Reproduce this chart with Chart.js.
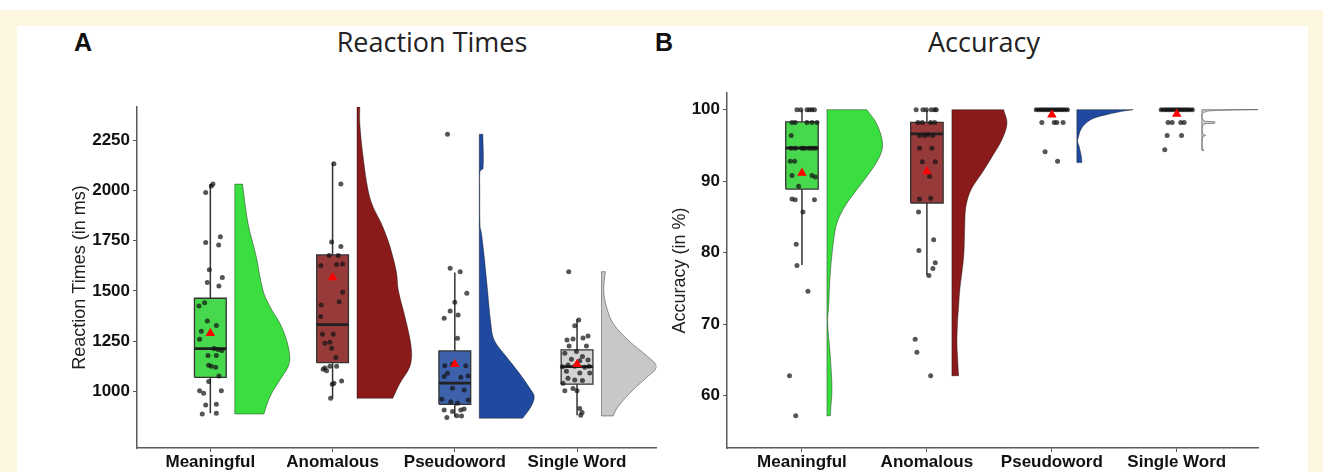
<!DOCTYPE html>
<html>
<head>
<meta charset="utf-8">
<script src="https://cdn.jsdelivr.net/npm/chart.js@4.4.1/dist/chart.umd.min.js"></script>
<style>
  html, body { margin: 0; padding: 0; }
  body { width: 1323px; height: 472px; background: #fdf7e2; position: relative; overflow: hidden; }
  #strip { position: absolute; left: 0; top: 0; width: 1323px; height: 10px; background: #fff; }
  #panel { position: absolute; left: 17px; top: 26px; width: 1291px; height: 446px; background: #fff; }
  .tag { position: absolute; font: bold 25px "Liberation Sans", Arial, sans-serif; line-height: 25px; color: #111; }
  .title { position: absolute; width: 300px; text-align: center; font: 27px "Open Sans", sans-serif; line-height: 27px; color: #222; }
  canvas { position: absolute; top: 80px; }
</style>
</head>
<body>
<div id="strip"></div>
<div id="panel"></div>
<div class="tag" style="left:74px; top:30px;">A</div>
<div class="title" style="left:282px; top:28px;">Reaction Times</div>
<div class="tag" style="left:655px; top:30px;">B</div>
<div class="title" style="left:834px; top:28px;">Accuracy</div>
<canvas id="rtChart" width="662" height="392" style="left:0px;"></canvas>
<canvas id="accChart" width="661" height="392" style="left:662px;"></canvas>

<script>
const categories = ["Meaningful", "Anomalous", "Pseudoword", "Single Word"];
const violinColors = ["#3ade3f", "#8b1a1a", "#1f4aa0", "#c8c8c8"];
const boxColors = ["#48d84d", "#973a3a", "#3d62ab", "#d3d3d3"];

// ---- Reaction times (ms) ----
const rtTicks = [1000, 1250, 1500, 1750, 2000, 2250];
const rtQ1 = [1071, 1144, 937, 1037];
const rtMedian = [1214, 1333, 1042, 1124];
const rtQ3 = [1464, 1679, 1202, 1207];
const rtLow = [893, 967, 875, 883];
const rtHigh = [2031, 2138, 1592, 1360];
const rtMean = [1290, 1567, 1136, 1136];

// [jitter, value]
const rtMeaningfulPts = [[0.021, 2031], [0.008, 2022], [-0.038, 1989], [-0.038, 1741], [0.068, 1729], [0.082, 1770],
  [-0.008, 1605], [-0.025, 1542], [0.07, 1525], [0.098, 1567], [-0.093, 1426], [-0.047, 1442], [-0.025, 1351],
  [0.049, 1328], [-0.074, 1300], [-0.088, 1260], [0.03, 1214], [0.063, 1209], [0.095, 1204], [-0.019, 1179],
  [0.049, 1179], [-0.014, 1131], [0.008, 1126], [0.044, 1121], [0.07, 1078], [-0.014, 1050], [-0.088, 1005],
  [0.09, 1005], [-0.055, 992], [-0.038, 934], [0.049, 937], [-0.066, 889], [0.049, 893]];
const rtAnomalousPts = [[0.011, 2132], [0.068, 2031], [-0.008, 1743], [0.068, 1721], [-0.028, 1676], [0.046, 1676],
  [-0.096, 1626], [0.033, 1631], [0.082, 1634], [0.082, 1494], [0.054, 1446], [-0.093, 1431], [-0.098, 1373],
  [-0.082, 1285], [0.005, 1285], [-0.022, 1245], [-0.063, 1240], [-0.008, 1216], [0.027, 1169], [-0.063, 1118],
  [-0.022, 1126], [0.033, 1126], [-0.049, 1104], [-0.077, 1111], [-0.003, 1037], [0.011, 1042], [0.074, 1053],
  [-0.016, 967]];
const rtPseudowordPts = [[-0.06, 2279], [-0.038, 1613], [0.044, 1596], [0.098, 1489], [0, 1444], [-0.038, 1400],
  [0.027, 1381], [-0.087, 1365], [0.022, 1265], [-0.082, 1128], [-0.019, 1136], [0.09, 1128], [-0.087, 1075],
  [-0.06, 1091], [0.049, 1071], [0.109, 1078], [-0.019, 1017], [0.076, 1008], [-0.106, 962], [0.109, 959],
  [-0.033, 950], [0.022, 942], [-0.087, 909], [-0.019, 901], [0.049, 909], [0.076, 914], [-0.065, 871],
  [0.016, 880], [0.055, 879]];
const rtSingleWordPts = [[-0.068, 1596], [0.014, 1356], [-0.019, 1327], [0.09, 1277], [-0.082, 1257], [-0.033, 1262],
  [0.049, 1267], [-0.065, 1227], [0.077, 1227], [-0.1, 1191], [-0.005, 1199], [0.044, 1174], [-0.046, 1161],
  [0.022, 1154], [0.09, 1157], [-0.12, 1124], [-0.074, 1132], [-0.019, 1126], [0.063, 1121], [0.098, 1126],
  [-0.087, 1101], [0.022, 1093], [0.104, 1093], [-0.074, 1067], [-0.115, 1042], [-0.019, 1058], [0.044, 1055],
  [-0.1, 1004], [-0.033, 1015], [0, 1004], [0.022, 916], [0.041, 896], [0.03, 883]];

// [value, relative density]
const rtMeaningfulDens = [[889, 0.53], [975, 0.64], [1058, 0.82], [1124, 0.97], [1174, 1.0], [1257, 0.94],
  [1340, 0.82], [1422, 0.64], [1505, 0.51], [1671, 0.39], [1837, 0.24], [2031, 0.14]];
const rtAnomalousDens = [[967, 0.65], [1042, 0.78], [1124, 0.96], [1207, 0.99], [1340, 0.9], [1505, 0.75],
  [1588, 0.72], [1671, 0.65], [1754, 0.56], [1837, 0.44], [1919, 0.29], [2002, 0.2], [2168, 0.11],
  [2334, 0.05], [2414, 0.05]];
const rtPseudowordDens = [[868, 0.79], [925, 0.94], [975, 1.0], [1008, 0.94], [1091, 0.73], [1174, 0.49],
  [1257, 0.27], [1340, 0.21], [1505, 0.15], [1671, 0.09], [1787, 0.04], [1820, 0.015], [2002, 0.01],
  [2095, 0.015], [2110, 0.07], [2279, 0.065]];
const rtSingleWordDens = [[879, 0.21], [925, 0.3], [1008, 0.57], [1075, 0.84], [1124, 1.0], [1174, 0.84],
  [1257, 0.48], [1340, 0.21], [1422, 0.09], [1505, 0.04], [1596, 0.07]];

// ---- Accuracy (%) ----
const accTicks = [60, 70, 80, 90, 100];
const accQ1 = [88.9, 86.95, 100, 100];
const accMedian = [94.64, 96.6, 100, 100];
const accQ3 = [98.28, 98.23, 100, 100];
const accLow = [78.3, 76.9, 100, 100];
const accHigh = [100, 100, 100, 100];
const accMean = [91.15, 91.37, 99.3, 99.4];

const accMeaningfulPts = [[-0.04, 100], [-0.01, 100], [0.04, 100], [0.06, 100], [0.08, 100], [0.1, 100],
  [-0.08, 98.2], [-0.054, 98.2], [0.04, 98.2], [0.08, 98.2], [0.12, 98.2], [-0.086, 96.4],
  [-0.088, 94.6], [-0.054, 94.6], [0, 94.6], [0.019, 94.6], [0.054, 94.6], [0.08, 94.6], [0.107, 94.6],
  [-0.094, 92.8], [-0.059, 92.8], [-0.08, 90.8], [0.08, 90.8], [0.107, 90.6], [-0.027, 89.3],
  [-0.08, 87.5], [-0.054, 87.4], [0.1, 87.4], [0.008, 85.7], [-0.046, 81.2], [-0.04, 78.2], [0.048, 74.6],
  [-0.1, 62.8], [-0.05, 57.2]];
const accAnomalousPts = [[-0.086, 100], [-0.032, 100], [-0.005, 100], [0.035, 100], [0.062, 100], [0.075, 100],
  [-0.072, 98.2], [-0.037, 98.2], [0.03, 98.2], [0.062, 98.2], [-0.059, 96.4], [-0.019, 96.4], [0.048, 96.4],
  [0.008, 96.5], [-0.059, 94.6], [0.04, 94.6], [-0.037, 92.7], [0.067, 92.7], [0.021, 90.7], [-0.059, 87.5],
  [0.03, 87.6], [-0.067, 85.7], [0.054, 81.8], [-0.064, 80.3], [0.067, 78.6], [0.048, 77.8], [0.016, 76.8],
  [-0.094, 67.9], [-0.08, 66.1], [0.03, 62.8]];
const accPseudowordPts = [[-0.125, 100], [-0.1, 100], [-0.08, 100], [-0.06, 100], [-0.04, 100], [-0.02, 100],
  [0, 100], [0.02, 100], [0.04, 100], [0.06, 100], [0.08, 100], [0.1, 100], [0.125, 100],
  [-0.08, 98.2], [0.019, 98.2], [0.04, 98.2], [0.09, 98.2], [-0.054, 94.1], [0.046, 92.8]];
const accSingleWordPts = [[-0.125, 100], [-0.1, 100], [-0.08, 100], [-0.06, 100], [-0.04, 100], [-0.02, 100],
  [0, 100], [0.02, 100], [0.04, 100], [0.06, 100], [0.08, 100], [0.1, 100], [0.125, 100],
  [-0.07, 98.2], [-0.037, 98.2], [0.032, 98.2], [0.059, 98.2], [-0.077, 96.4], [0.038, 96.4], [-0.096, 94.4]];

const accMeaningfulDens = [[57.2, 0.06], [58.5, 0.07], [60.8, 0.09], [65.5, 0.06], [70.2, 0.012], [72.5, 0.03],
  [77.2, 0.06], [81.8, 0.12], [84.2, 0.18], [86.5, 0.32], [88.8, 0.53], [91.2, 0.76], [93.5, 0.94],
  [95.3, 0.99], [98.1, 0.88], [100, 0.71]];
const accAnomalousDens = [[62.8, 0.12], [65.5, 0.1], [67.4, 0.09], [70.2, 0.1], [72.5, 0.12], [74.8, 0.14],
  [79.5, 0.21], [84.2, 0.23], [86.5, 0.25], [88.8, 0.34], [91.2, 0.54], [93.5, 0.72], [95.8, 0.89],
  [98.1, 0.98], [100, 0.92]];
const accPseudowordDens = [[92.6, 0.09], [93.5, 0.08], [94.9, 0.04], [95.6, 0.012], [96.0, 0.023], [97.2, 0.07],
  [98.1, 0.16], [98.8, 0.3], [99.3, 0.53], [99.8, 0.83], [100, 1.0]];
const accSingleWordDens = [[94.3, 0.04], [94.6, 0.012], [96.2, 0.018], [96.4, 0.07], [96.6, 0.018], [97.9, 0.03],
  [98.1, 0.23], [98.3, 0.23], [98.5, 0.03], [99.6, 0.03], [99.9, 0.4], [100, 1.0]];

const BOX_HALF = 0.13;
const VIOLIN_GAP = 0.2;
const VIOLIN_WIDTH = 0.45;

function lineSet(data, extra) {
    return Object.assign({
        type: "line", data: data, showLine: true, fill: false, tension: 0,
        pointRadius: 0, pointHoverRadius: 0, borderColor: "#333", borderWidth: 1.3
    }, extra);
}

function buildSets(q1, med, q3, lo, hi, mean, pts, dens) {
    const sets = [];
    categories.forEach(function (name, i) {
        const c = i + 1;
        const b = c + VIOLIN_GAP;
        const d = dens[i];
        const curve = d.map(p => ({ x: b + p[1] * VIOLIN_WIDTH, y: p[0] }));
        const first = curve[0], last = curve[curve.length - 1];
        const lowBase = { x: b, y: d[0][0] }, topBase = { x: b, y: d[d.length - 1][0] };
        // corner points doubled so the smoothed curve keeps sharp corners
        const outline = [lowBase, first].concat(curve, [last, topBase, topBase, lowBase]);
        sets.push(lineSet(outline, {
            fill: "shape", backgroundColor: violinColors[i], tension: 0.35,
            borderColor: "rgba(0,0,0,0.55)", borderWidth: 0.7, order: 5
        }));
        sets.push(lineSet([{ x: c, y: lo[i] }, { x: c, y: hi[i] }], { borderWidth: 1.5, order: 4 }));
        sets.push(lineSet([
            { x: c - BOX_HALF, y: q1[i] }, { x: c + BOX_HALF, y: q1[i] },
            { x: c + BOX_HALF, y: q3[i] }, { x: c - BOX_HALF, y: q3[i] }, { x: c - BOX_HALF, y: q1[i] }
        ], { fill: "shape", backgroundColor: boxColors[i], order: 3 }));
        sets.push(lineSet([{ x: c - BOX_HALF, y: med[i] }, { x: c + BOX_HALF, y: med[i] }],
            { borderColor: "#222", borderWidth: 2.8, order: 2 }));
        sets.push(lineSet(pts[i].map(p => ({ x: c + p[0], y: p[1] })), {
            showLine: false, pointRadius: 2.5, pointBackgroundColor: "rgba(20,20,20,0.72)",
            pointBorderWidth: 0, order: 1
        }));
        sets.push(lineSet([{ x: c, y: mean[i] }], {
            showLine: false, pointStyle: "triangle", pointRadius: 5.5,
            pointBackgroundColor: "#ff0000", pointBorderColor: "#ff0000", pointBorderWidth: 0, order: 0
        }));
    });
    return sets;
}

function makeChart(id, sets, yMin, yMax, yTicks, yTitle, pad, yWidth, titlePad) {
    new Chart(document.getElementById(id), {
        type: "line",
        data: { datasets: sets },
        options: {
            responsive: false,
            animation: false,
            events: [],
            layout: { padding: pad },
            plugins: { legend: { display: false }, tooltip: { enabled: false } },
            scales: {
                x: {
                    type: "linear", min: 0.4, max: 4.65,
                    afterBuildTicks: s => { s.ticks = [1, 2, 3, 4].map(v => ({ value: v })); },
                    afterFit: s => { s.height = 24; },
                    grid: { display: true, drawOnChartArea: false, drawTicks: true, tickLength: 4, color: "#555" },
                    border: { display: true, color: "#5a5a5a", width: 1.5 },
                    ticks: {
                        padding: 0, color: "#111",
                        font: { family: "'Liberation Sans', Arial, sans-serif", size: 17, weight: "bold" },
                        callback: v => categories[v - 1]
                    }
                },
                y: {
                    type: "linear", min: yMin, max: yMax,
                    afterBuildTicks: s => { s.ticks = yTicks.map(v => ({ value: v })); },
                    afterFit: s => { s.width = yWidth; },
                    grid: { display: true, drawOnChartArea: false, drawTicks: true, tickLength: 4, color: "#555" },
                    border: { display: true, color: "#5a5a5a", width: 1.5 },
                    ticks: {
                        padding: 3, color: "#111",
                        font: { family: "'Liberation Sans', Arial, sans-serif", size: 17, weight: "bold" },
                        callback: v => String(v)
                    },
                    title: {
                        display: true, text: yTitle, color: "#222", padding: { top: titlePad, bottom: 0 },
                        font: { family: "'Liberation Sans', Arial, sans-serif", size: 18 }
                    }
                }
            }
        }
    });
}

makeChart("rtChart",
    buildSets(rtQ1, rtMedian, rtQ3, rtLow, rtHigh, rtMean,
        [rtMeaningfulPts, rtAnomalousPts, rtPseudowordPts, rtSingleWordPts],
        [rtMeaningfulDens, rtAnomalousDens, rtPseudowordDens, rtSingleWordDens]),
    720, 2414, rtTicks, "Reaction Times (in ms)",
    { top: 27, right: 5, left: 0, bottom: 0 }, 137, 69);

makeChart("accChart",
    buildSets(accQ1, accMedian, accQ3, accLow, accHigh, accMean,
        [accMeaningfulPts, accAnomalousPts, accPseudowordPts, accSingleWordPts],
        [accMeaningfulDens, accAnomalousDens, accPseudowordDens, accSingleWordDens]),
    52.7, 102.3, accTicks, "Accuracy (in %)",
    { top: 13, right: 65, left: 0, bottom: 0 }, 65, 7);
</script>
</body>
</html>
